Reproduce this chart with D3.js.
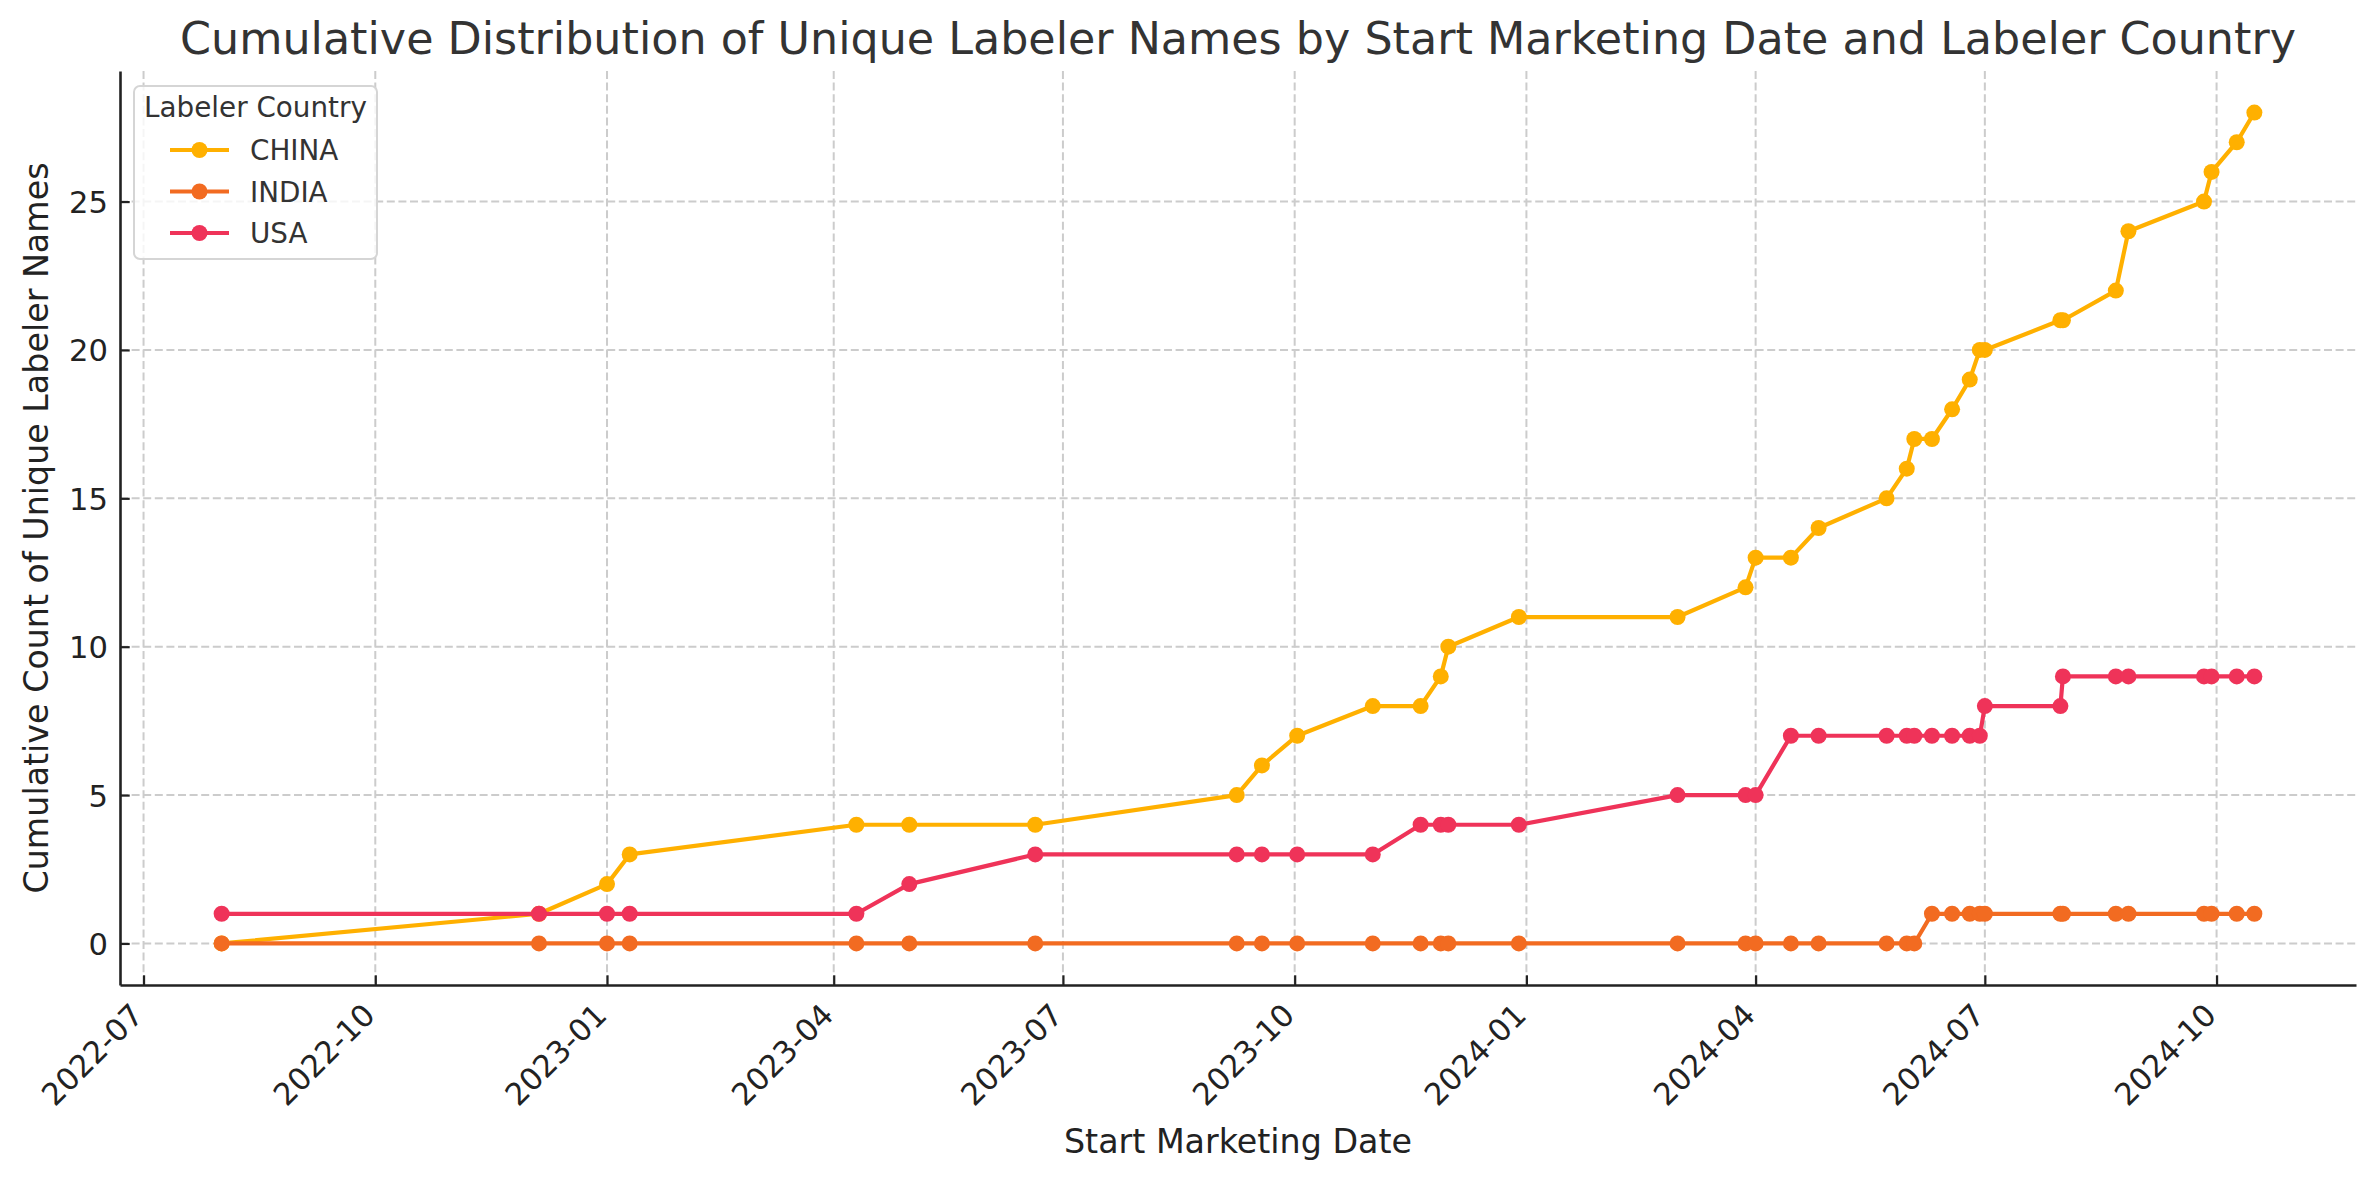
<!DOCTYPE html>
<html>
<head>
<meta charset="utf-8">
<script src="https://cdn.jsdelivr.net/npm/d3@7.9.0/dist/d3.min.js"></script>
<style>
  body { margin: 0; background: #fff; }
  svg { display: block; font-family: "DejaVu Sans", sans-serif; }
</style>
</head>
<body>
<svg id="chart" width="2376" height="1180"></svg>
<script>
// dates where any country got a new labeler, with running totals per country
const dates = [
  "2022-08-01", "2022-12-05", "2023-01-01", "2023-01-10", "2023-04-10", "2023-05-01",
  "2023-06-20", "2023-09-08", "2023-09-18", "2023-10-02", "2023-11-01", "2023-11-20",
  "2023-11-28", "2023-12-01", "2023-12-29", "2024-03-01", "2024-03-28", "2024-04-01",
  "2024-04-15", "2024-04-26", "2024-05-23", "2024-05-31", "2024-06-03", "2024-06-10",
  "2024-06-18", "2024-06-25", "2024-06-29", "2024-07-01", "2024-07-31", "2024-08-01",
  "2024-08-22", "2024-08-27", "2024-09-26", "2024-09-29", "2024-10-09", "2024-10-16"
];
const china = [0, 1, 2, 3, 4, 4, 4, 5, 6, 7, 8, 8, 9, 10, 11, 11, 12, 13,
               13, 14, 15, 16, 17, 17, 18, 19, 20, 20, 21, 21, 22, 24, 25, 26, 27, 28];
const india = [0, 0, 0, 0, 0, 0, 0, 0, 0, 0, 0, 0, 0, 0, 0, 0, 0, 0,
               0, 0, 0, 0, 0, 1, 1, 1, 1, 1, 1, 1, 1, 1, 1, 1, 1, 1];
const usa   = [1, 1, 1, 1, 1, 2, 3, 3, 3, 3, 3, 4, 4, 4, 4, 5, 5, 5,
               7, 7, 7, 7, 7, 7, 7, 7, 7, 8, 8, 9, 9, 9, 9, 9, 9, 9];

const countries = ["CHINA", "INDIA", "USA"];
const colors = ["#FFB000", "#F26B21", "#EF3359"];
const yTicks = [0, 5, 10, 15, 20, 25];

const svg = d3.select("#chart");
const width = 2376, height = 1180;
const margin = { top: 71, right: 20, bottom: 195, left: 120 };
const innerW = width - margin.left - margin.right;

const parse = d3.utcParse("%Y-%m-%d");
const parsed = dates.map(parse);
const series = countries.map((name, i) => ({
  name,
  color: colors[i],
  values: [china, india, usa][i].map((v, j) => ({ date: parsed[j], v }))
}));

// matplotlib-like 5% padding around the data
const xExt = d3.extent(parsed);
const xPad = (xExt[1] - xExt[0]) * 0.05;
const x = d3.scaleUtc()
  .domain([new Date(+xExt[0] - xPad), new Date(+xExt[1] + xPad)])
  .range([margin.left, width - margin.right]);

const allV = china.concat(india, usa);
const yExt = d3.extent(allV);
const yPad = (yExt[1] - yExt[0]) * 0.05;
const y = d3.scaleLinear()
  .domain([yExt[0] - yPad, yExt[1] + yPad])
  .range([height - margin.bottom, margin.top]);

const xTicks = x.ticks(d3.utcMonth.every(3));
const fmt = d3.utcFormat("%Y-%m");

// grid
const grid = svg.append("g")
  .attr("stroke", "#cccccc")
  .attr("stroke-width", 2)
  .attr("stroke-dasharray", "8,3.6");
grid.selectAll(".vgrid").data(xTicks).enter().append("line")
  .attr("x1", d => x(d)).attr("x2", d => x(d))
  .attr("y1", margin.top).attr("y2", height - margin.bottom);
grid.selectAll(".hgrid").data(yTicks).enter().append("line")
  .attr("y1", d => y(d)).attr("y2", d => y(d))
  .attr("x1", margin.left).attr("x2", width - margin.right);

// series
const line = d3.line().x(d => x(d.date)).y(d => y(d.v));
series.forEach(s => {
  svg.append("path")
    .datum(s.values)
    .attr("fill", "none")
    .attr("stroke", s.color)
    .attr("stroke-width", 4.2)
    .attr("stroke-linejoin", "round")
    .attr("d", line);
  svg.append("g").selectAll("circle").data(s.values).enter().append("circle")
    .attr("cx", d => x(d.date))
    .attr("cy", d => y(d.v))
    .attr("r", 8)
    .attr("fill", s.color);
});

// axes
const xAxis = svg.append("g")
  .attr("transform", `translate(0,${height - margin.bottom})`)
  .call(d3.axisBottom(x).tickValues(xTicks).tickFormat(fmt).tickSizeInner(-9.7).tickSizeOuter(0));
xAxis.selectAll("text")
  .attr("y", null).attr("dy", null)
  .attr("text-anchor", "end")
  .attr("transform", "translate(1,32) rotate(-45)");

const yAxis = svg.append("g")
  .attr("transform", `translate(${margin.left},0)`)
  .call(d3.axisLeft(y).tickValues(yTicks).tickSizeInner(-9.7).tickSizeOuter(0).tickPadding(12));
yAxis.selectAll("text").attr("dy", "0.36em");

[xAxis, yAxis].forEach(a => {
  a.attr("font-family", null).attr("font-size", null);
  a.select(".domain").attr("stroke", "#222").attr("stroke-width", 2.6);
  a.selectAll(".tick line").attr("stroke", "#222").attr("stroke-width", 2.2);
  a.selectAll("text").style("font-size", "30.6px").attr("fill", "#222");
});

// labels
svg.append("text")
  .attr("x", (margin.left + width - margin.right) / 2)
  .attr("y", 54)
  .attr("text-anchor", "middle")
  .attr("fill", "#333")
  .style("font-size", "44.4px")
  .text("Cumulative Distribution of Unique Labeler Names by Start Marketing Date and Labeler Country");

svg.append("text")
  .attr("x", (margin.left + width - margin.right) / 2)
  .attr("y", 1153)
  .attr("text-anchor", "middle")
  .attr("fill", "#222")
  .style("font-size", "33.3px")
  .text("Start Marketing Date");

svg.append("text")
  .attr("transform", `translate(48,${(margin.top + height - margin.bottom) / 2}) rotate(-90)`)
  .attr("text-anchor", "middle")
  .attr("fill", "#222")
  .style("font-size", "33.3px")
  .text("Cumulative Count of Unique Labeler Names");

// legend
const legend = svg.append("g").attr("transform", "translate(134,86)");
legend.append("rect")
  .attr("width", 243).attr("height", 173)
  .attr("rx", 6)
  .attr("fill", "#fff").attr("fill-opacity", 0.8)
  .attr("stroke", "#d5d5d5").attr("stroke-width", 2);
legend.append("text")
  .attr("x", 121.5).attr("y", 31)
  .attr("text-anchor", "middle")
  .attr("fill", "#333")
  .style("font-size", "27.8px")
  .text("Labeler Country");
const items = legend.selectAll(".item").data(series).enter().append("g")
  .attr("transform", (d, i) => `translate(0,${64 + i * 41.5})`);
items.append("line")
  .attr("x1", 36).attr("x2", 95)
  .attr("stroke", d => d.color).attr("stroke-width", 4.2);
items.append("circle")
  .attr("cx", 65.5).attr("r", 8)
  .attr("fill", d => d.color);
items.append("text")
  .attr("x", 116).attr("y", 10)
  .attr("fill", "#333")
  .style("font-size", "27.8px")
  .text(d => d.name);
</script>
</body>
</html>
